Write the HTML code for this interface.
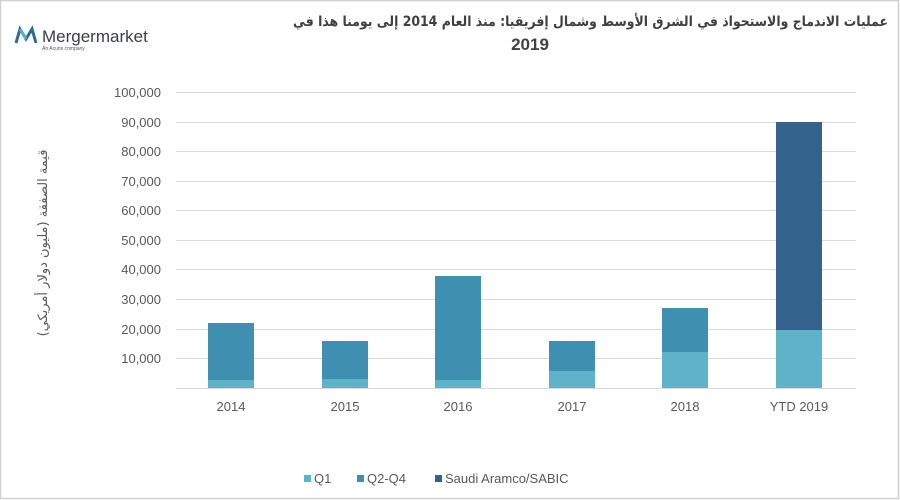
<!DOCTYPE html>
<html><head><meta charset="utf-8"><style>
html,body{margin:0;padding:0;background:#fff;}
svg{display:block;}
text{font-family:"Liberation Sans","Noto Sans CJK SC",sans-serif;}
</style></head><body>
<svg width="900" height="500" viewBox="0 0 900 500" xmlns="http://www.w3.org/2000/svg">
<rect x="0.5" y="0.5" width="898" height="498" fill="#fff" stroke="#d0d0d0" stroke-width="1.5"/>
<!-- logo -->
<g transform="translate(16,27)">
<path d="M0,16 L4,2 L10,12 L16,2 L20,16" fill="none" stroke="#2f6b8f" stroke-width="3"/>
<path d="M4,2 L10,12" fill="none" stroke="#5ab0c8" stroke-width="3"/>
</g>
<text x="42" y="42" font-size="17" fill="#3a3f44">Mergermarket</text>
<text x="42" y="50" font-size="5" fill="#555">An Acuris company</text>
<!-- title -->
<text x="888" y="26" font-size="14" font-weight="bold" fill="#404040" text-anchor="start" direction="rtl" textLength="595" lengthAdjust="spacingAndGlyphs" style="font-family:'DejaVu Sans',sans-serif">عمليات الاندماج والاستحواذ في الشرق الأوسط وشمال إفريقيا: منذ العام 2014 إلى يومنا هذا في</text>
<text x="530" y="50" font-size="17" font-weight="bold" fill="#404040" text-anchor="middle">2019</text>
<!-- gridlines -->
<g stroke="#d9d9d9" stroke-width="1">
<line x1="176" x2="856" y1="92.5" y2="92.5"/><line x1="176" x2="856" y1="122.5" y2="122.5"/>
<line x1="176" x2="856" y1="151.5" y2="151.5"/><line x1="176" x2="856" y1="181.5" y2="181.5"/>
<line x1="176" x2="856" y1="210.5" y2="210.5"/><line x1="176" x2="856" y1="240.5" y2="240.5"/>
<line x1="176" x2="856" y1="269.5" y2="269.5"/><line x1="176" x2="856" y1="299.5" y2="299.5"/>
<line x1="176" x2="856" y1="329.5" y2="329.5"/><line x1="176" x2="856" y1="358.5" y2="358.5"/>
<line x1="176" x2="856" y1="388.5" y2="388.5"/>
</g>
<g font-size="13" fill="#595959" text-anchor="end">
<text x="161" y="97">100,000</text><text x="161" y="127">90,000</text><text x="161" y="156">80,000</text>
<text x="161" y="186">70,000</text><text x="161" y="215">60,000</text><text x="161" y="245">50,000</text>
<text x="161" y="274">40,000</text><text x="161" y="304">30,000</text><text x="161" y="334">20,000</text>
<text x="161" y="363">10,000</text>
</g>
<text transform="translate(47,243) rotate(-90)" font-size="13" fill="#595959" text-anchor="middle" direction="rtl" style="font-family:'DejaVu Sans',sans-serif">قيمة الصفقة (مليون دولار أمريكي)</text>
<!-- bars -->
<g>
<rect x="208" y="323" width="46" height="65" fill="#3e8fb0"/><rect x="208" y="380" width="46" height="8" fill="#5fb3c9"/>
<rect x="322" y="341" width="46" height="47" fill="#3e8fb0"/><rect x="322" y="379" width="46" height="9" fill="#5fb3c9"/>
<rect x="435" y="276" width="46" height="112" fill="#3e8fb0"/><rect x="435" y="380" width="46" height="8" fill="#5fb3c9"/>
<rect x="549" y="341" width="46" height="47" fill="#3e8fb0"/><rect x="549" y="371" width="46" height="17" fill="#5fb3c9"/>
<rect x="662" y="308" width="46" height="80" fill="#3e8fb0"/><rect x="662" y="352" width="46" height="36" fill="#5fb3c9"/>
<rect x="776" y="122" width="46" height="266" fill="#33628c"/><rect x="776" y="330" width="46" height="58" fill="#5fb3c9"/>
</g>
<g font-size="13" fill="#595959" text-anchor="middle">
<text x="231" y="411">2014</text><text x="345" y="411">2015</text><text x="458" y="411">2016</text>
<text x="572" y="411">2017</text><text x="685" y="411">2018</text><text x="799" y="411">YTD 2019</text>
</g>
<!-- legend -->
<rect x="304" y="475" width="7" height="7" fill="#5fb3c9"/><text x="314" y="483" font-size="13" fill="#595959">Q1</text>
<rect x="357" y="475" width="7" height="7" fill="#3e8fb0"/><text x="367" y="483" font-size="13" fill="#595959">Q2-Q4</text>
<rect x="435" y="475" width="7" height="7" fill="#33628c"/><text x="445" y="483" font-size="13" fill="#595959">Saudi Aramco/SABIC</text>
</svg>
</body></html>
